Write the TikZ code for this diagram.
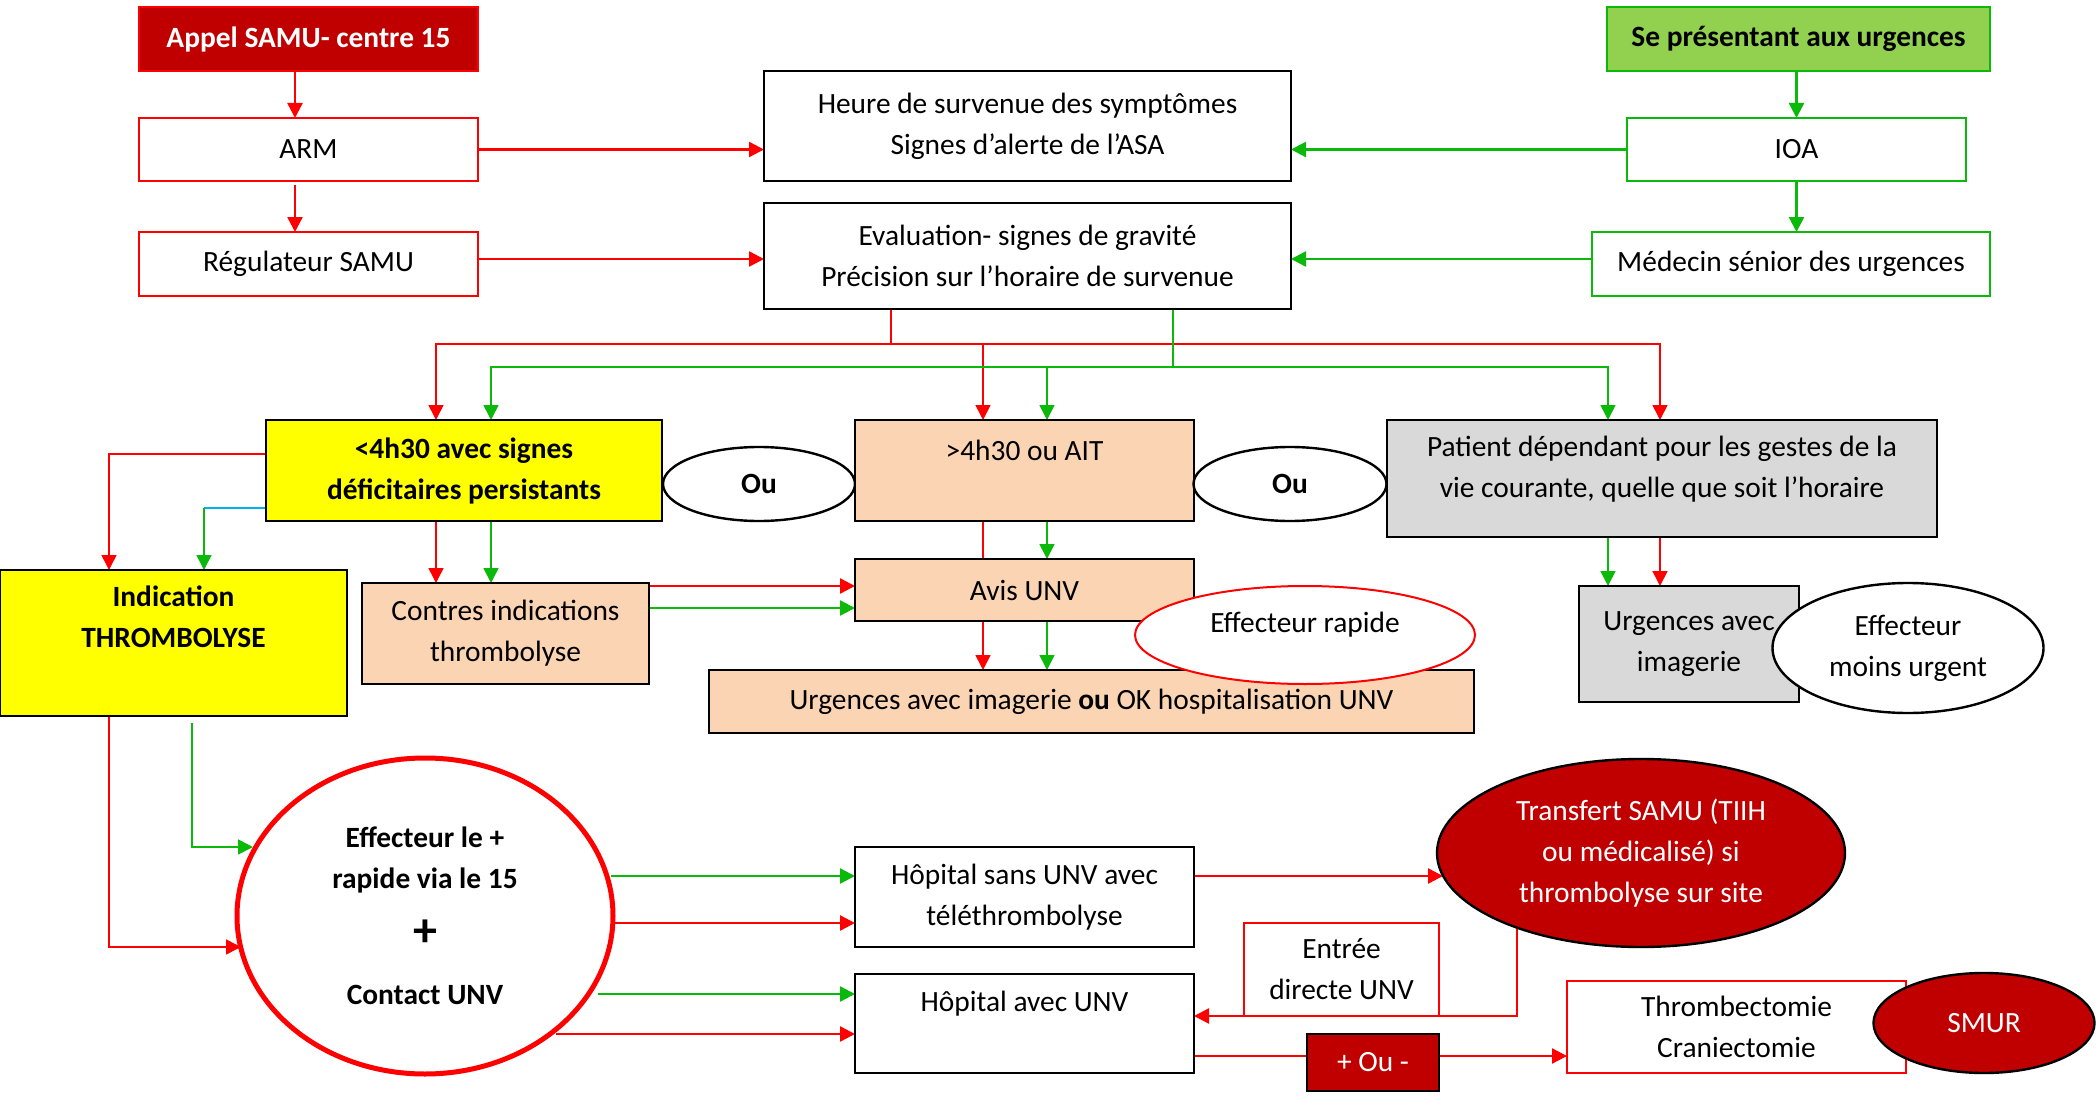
\documentclass[tikz,border=0pt]{standalone}
\usepackage{fontspec}
\setmainfont{Carlito}
\usetikzlibrary{arrows.meta,shapes.geometric,backgrounds}
\newcommand\myfs{\fontsize{14.7pt}{20.5pt}\selectfont}
\definecolor{dred}{HTML}{C00000}
\definecolor{rline}{HTML}{FF0000}
\definecolor{gline}{RGB}{10,185,10}
\definecolor{gfill}{HTML}{92D050}
\definecolor{yfill}{HTML}{FFFF00}
\definecolor{peach}{HTML}{FBD4B4}
\definecolor{gry}{HTML}{D9D9D9}
\definecolor{blu}{HTML}{00B0F0}
\tikzset{
  every node/.style={font=\myfs, align=center, inner sep=0pt, outer sep=0pt},
  bx/.style={draw=black, rectangle, line width=1.3pt},
  rbx/.style={draw=rline, rectangle, line width=1pt, fill=white},
  gbx/.style={draw=gline, rectangle, line width=1pt, fill=white},
  ell/.style={draw=black, ellipse, line width=1.2pt, fill=white},
  bfn/.style={font=\myfs\bfseries},
  tip/.style={-{Triangle[length=7.5pt,width=7.5pt]}},
  ra/.style={draw=rline, line width=1.2pt, tip},
  rat/.style={draw=rline, line width=0.8pt, tip},
  rl/.style={draw=rline, line width=1.2pt},
  rlt/.style={draw=rline, line width=0.8pt},
  ga/.style={draw=gline, line width=1.2pt, tip},
  gat/.style={draw=gline, line width=0.8pt, tip},
  glt/.style={draw=gline, line width=0.8pt},
}
\begin{document}
\begin{tikzpicture}[x=0.5pt,y=-0.5pt]
\useasboundingbox (0,0) rectangle (2100,1097);

% Row 1-3
\node[rbx, fill=dred, text=white, bfn, minimum width=169.5pt, minimum height=32pt] (appel) at (308.5,39) {Appel SAMU- centre 15};
\node[gbx, fill=gfill, bfn, minimum width=191.5pt, minimum height=32pt] (sep) at (1798.5,39) {Se présentant aux urgences};
\node[rbx, minimum width=169.5pt, minimum height=31.5pt] (arm) at (308.5,149.5) {ARM};
\node[bx, minimum width=263.5pt, minimum height=55pt] (heure) at (1027.5,126) {Heure de survenue des symptômes\\Signes d’alerte de l’ASA};
\node[gbx, minimum width=169.5pt, minimum height=31.5pt] (ioa) at (1796.5,149.5) {IOA};
\node[rbx, minimum width=169.5pt, minimum height=32pt] (regul) at (308.5,264) {Régulateur SAMU};
\node[bx, minimum width=263.5pt, minimum height=53pt] (eval) at (1027.5,256) {Evaluation- signes de gravité\\Précision sur l’horaire de survenue};
\node[gbx, minimum width=199pt, minimum height=32pt] (medecin) at (1791,264) {Médecin sénior des urgences};

% Row 4
\node[bx, fill=yfill, bfn, minimum width=198pt, minimum height=50.5pt] (lt) at (464,470.5) {<4h30 avec signes\\déficitaires persistants};
\node[ell, bfn, minimum width=96pt, minimum height=37pt] (ou1) at (759,484) {Ou};
\node[bx, fill=peach, minimum width=169.5pt, minimum height=50.5pt] (gt) at (1024.5,470.5) {>4h30 ou AIT\\[-6pt]\strut};
\node[ell, bfn, minimum width=96.5pt, minimum height=37pt] (ou2) at (1290,484) {Ou};
\node[bx, fill=gry, minimum width=275pt, minimum height=58.5pt] (pat) at (1662,478.5) {Patient dépendant pour les gestes de la\\vie courante, quelle que soit l’horaire\\[-15pt]\strut};

% Row 5
\node[bx, fill=yfill, bfn, minimum width=173.5pt, minimum height=73pt] (ind) at (173.5,643) {Indication\\THROMBOLYSE\\\strut};
\node[bx, fill=peach, minimum width=143.5pt, minimum height=50.5pt] (ci) at (505.5,633.5) {Contres indications\\thrombolyse};
\node[bx, fill=peach, minimum width=169.5pt, minimum height=31pt] (avis) at (1024.5,590) {Avis UNV};
\node[bx, fill=peach, minimum width=382.5pt, minimum height=31.5pt] (urg) at (1091.5,701.5) {Urgences avec imagerie \textbf{ou} OK hospitalisation UNV};
\node[ell, draw=rline, line width=1pt, minimum width=170pt, minimum height=49pt] (effr) at (1305,635) {Effecteur rapide\\[-14pt]\strut};
\node[bx, fill=gry, minimum width=110pt, minimum height=58pt] (urgi) at (1689,644) {Urgences avec\\imagerie};
\node[ell, minimum width=135.5pt, minimum height=65pt] (effm) at (1908,648) {Effecteur\\moins urgent};

% Row 6
\node[ell, draw=rline, line width=2.5pt, bfn, minimum width=188pt, minimum height=158pt] (big) at (425,916)
  {Effecteur le +\\rapide via le 15\\[8.5pt]{\fontsize{24pt}{20.5pt}\selectfont\bfseries +}\\[8.5pt]Contact UNV};
\node[bx, fill=white, minimum width=169.5pt, minimum height=50pt] (hs) at (1024.5,897) {Hôpital sans UNV avec\\téléthrombolyse};
\node[bx, fill=white, minimum width=169.5pt, minimum height=49.5pt] (ha) at (1024.5,1023.5) {Hôpital avec UNV\\[-4pt]\strut};
\node[ell, fill=dred, text=white, minimum width=204pt, minimum height=94pt] (tr) at (1641,853) {Transfert SAMU (TIIH\\ou médicalisé) si\\thrombolyse sur site};
\node[rbx, line width=0.8pt, minimum width=97.5pt, minimum height=46.5pt] (ed) at (1341.5,969.5) {Entrée\\directe UNV};
\node[bx, fill=dred, text=white, minimum width=66pt, minimum height=28.5pt] (ou3) at (1373,1062.5) {+ Ou -};
\node[rbx, minimum width=169.5pt, minimum height=46pt] (thr) at (1736.5,1027) {Thrombectomie\\Craniectomie};
\node[ell, fill=dred, text=white, minimum width=110.5pt, minimum height=50pt] (smur) at (1984,1023) {SMUR};

\begin{scope}[on background layer]
% top column connectors
\draw[ra] ([xshift=-6.75pt]appel.south) -- ([xshift=-6.75pt]arm.north);
\draw[ra] ([xshift=-6.75pt,yshift=-2pt]arm.south) -- ([xshift=-6.75pt]regul.north);
\draw[ra] (arm.east) -- (arm.east -| heure.west);
\draw[ra] ([yshift=2.5pt]regul.east) -- ([yshift=2.5pt]regul.east -| eval.west);
\draw[ga] (ioa.north |- sep.south) -- (ioa.north);
\draw[ga] (ioa.south) -- (ioa.south |- medecin.north);
\draw[ga] (ioa.west) -- (ioa.west -| heure.east);
\draw[ga] ([yshift=2.5pt]medecin.west) -- ([yshift=2.5pt]medecin.west -| eval.east);

% distribution buses
\coordinate (ER) at ([xshift=-68.25pt]eval.south);
\coordinate (EG) at ([xshift=72.75pt]eval.south);
\coordinate (rbus) at (0,344);
\coordinate (gbus) at (0,367);
\coordinate (ltR) at ([xshift=-14pt]lt.north);
\coordinate (ltG) at ([xshift=13.5pt]lt.north);
\coordinate (gtR) at ([xshift=-20.75pt]gt.north);
\coordinate (gtG) at ([xshift=11.25pt]gt.north);
\coordinate (patG) at ([xshift=-27pt]pat.north);
\coordinate (patR) at ([xshift=-1pt]pat.north);
\draw[rat] (ER) -- (ER |- rbus) -| (ltR);
\draw[rat] (ER |- rbus) -| (gtR);
\draw[rat] (ER |- rbus) -| (patR);
\draw[gat] (EG) -- (EG |- gbus) -| (ltG);
\draw[gat] (EG |- gbus) -| (gtG);
\draw[gat] (EG |- gbus) -| (patG);

% <4h30 to Indication
\draw[rat] ([yshift=8.25pt]lt.west) -| ([xshift=-32.25pt]ind.north);
\coordinate (ltB) at ([yshift=-18.75pt]lt.west);
\coordinate (indG) at ([xshift=15.25pt]ind.north);
\draw[draw=blu, line width=0.8pt] (ltB) -- (ltB -| indG);
\draw[gat] (ltB -| indG) -- (indG);

% <4h30 to Contres indications
\draw[rat] ([xshift=-14pt]lt.south) -- ([xshift=-14pt]lt.south |- ci.north);
\draw[gat] ([xshift=13.5pt]lt.south) -- ([xshift=13.5pt]lt.south |- ci.north);

% Contres indications to Avis
\draw[ra] ([yshift=23.75pt]ci.east) -- ([yshift=23.75pt]ci.east -| avis.west);
\draw[ga] ([yshift=12.75pt]ci.east) -- ([yshift=12.75pt]ci.east -| avis.west);

% >4h30 to Avis, Avis to Urgences
\draw[rlt] ([xshift=-20.75pt]gt.south) -- ([xshift=-20.75pt]avis.north);
\draw[gat] ([xshift=11.25pt]gt.south) -- ([xshift=11.25pt]avis.north);
\draw[rat] ([xshift=-20.75pt]avis.south) -- ([xshift=-20.75pt]avis.south |- urg.north);
\draw[gat] ([xshift=11.25pt]avis.south) -- ([xshift=11.25pt]avis.south |- urg.north);

% Patient to Urgences avec imagerie
\draw[gat] ([xshift=-27pt]pat.south) -- ([xshift=-27pt]pat.south |- urgi.north);
\draw[rat] ([xshift=-1pt]pat.south) -- ([xshift=-1pt]pat.south |- urgi.north);

% Indication to big ellipse
\draw[rat] ([xshift=-32.25pt]ind.south) |- ([xshift=-92pt,yshift=-15.5pt]big.center);
\draw[gat] ([xshift=9.25pt,yshift=-3.5pt]ind.south) |- ([xshift=-86pt,yshift=34.5pt]big.center);

% big ellipse to hospitals
\coordinate (b1) at ([xshift=93pt,yshift=20pt]big.center);
\coordinate (b2) at ([xshift=94pt,yshift=-3.5pt]big.center);
\coordinate (b3) at ([xshift=86.5pt,yshift=-39pt]big.center);
\coordinate (b4) at ([xshift=65.5pt,yshift=-59pt]big.center);
\draw[ga] (b1) -- (b1 -| hs.west);
\draw[ra] (b2) -- (b2 -| hs.west);
\draw[ga] (b3) -- (b3 -| ha.west);
\draw[ra] (b4) -- (b4 -| ha.west);

% hospital connectors
\draw[ra] ([yshift=10.5pt]hs.east) -- ([xshift=-99pt,yshift=-11.5pt]tr.center);
\draw[ra] ([xshift=-62pt,yshift=-35pt]tr.center) |- ([yshift=3.75pt]ha.east);
\coordinate (h1) at ([yshift=-16.25pt]ha.east);
\draw[rl] (h1) -- (h1 -| ou3.west);
\draw[ra] (h1 -| ou3.east) -- (h1 -| thr.west);
\end{scope}
\end{tikzpicture}
\end{document}
